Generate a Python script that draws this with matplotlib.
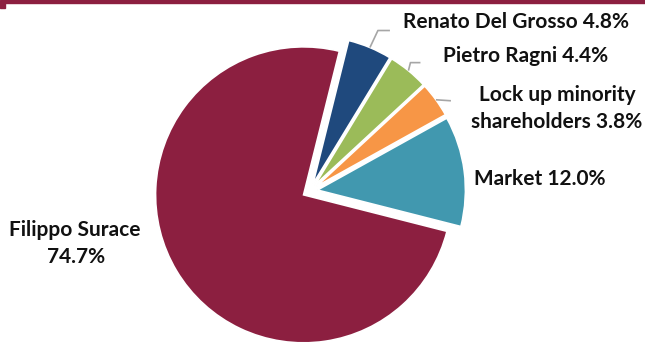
import math
import matplotlib
matplotlib.use("Agg")
import matplotlib.pyplot as plt
from matplotlib.patches import Rectangle

# ---- data ----
names = ["Renato Del Grosso", "Pietro Ragni", "Lock up minority\nshareholders", "Market", "Filippo Surace"]
shares = [4.8, 4.4, 3.8, 12.0, 74.7]
colors = ["#1F497D", "#9BBB59", "#F79646", "#4198AF", "#8C1F40"]

W, H = 645, 343
plt.rcParams['font.family'] = ['Lato', 'DejaVu Sans']

fig = plt.figure(figsize=(W / 100, H / 100), dpi=100)
ax = fig.add_axes([0, 0, 1, 1])

R = 148
cx, cy = 310, H - 191
wedges, _ = ax.pie(shares, colors=colors, startangle=76, counterclock=False,
                   explode=[7.5] * len(shares), radius=R, center=(cx, cy),
                   wedgeprops=dict(edgecolor="white", linewidth=1.2))
ax.set_xlim(0, W)
ax.set_ylim(0, H)
ax.set_aspect("equal")
ax.axis("off")

def Y(y):
    return H - y

# top rule
ax.add_patch(Rectangle((0, Y(3)), W, 3, color="#8C1F40", clip_on=False))
ax.add_patch(Rectangle((0, Y(8)), 5, 5, color="#8C1F40", clip_on=False))

tk = dict(fontsize=15, fontweight="bold", color="#111111")

# label lines: text, center x, baseline y (pixels from top)
lines = [
    (f"{names[0]} {shares[0]:.1f}%", 516, 28),
    (f"{names[1]} {shares[1]:.1f}%", 526, 62),
    (names[2].split("\n")[0], 557, 101),
    (f"{names[2].split(chr(10))[1]} {shares[2]:.1f}%", 557, 128),
    (f"{names[3]} {shares[3]:.1f}%", 540, 185),
    (names[4], 75, 236),
    (f"{shares[4]:.1f}%", 76, 263),
]
for txt, x, y in lines:
    ax.text(x, Y(y), txt, ha="center", va="baseline", **tk)

# leader lines from the wedge edges
offsets = [((8, 17), 12), ((2, 8), 10), ((15, -1), 0)]
for w, ((dx, dy), hx) in zip(wedges[:3], offsets):
    th = math.radians((w.theta1 + w.theta2) / 2)
    x0 = w.center[0] + R * math.cos(th)
    y0 = w.center[1] + R * math.sin(th)
    xs = [x0, x0 + dx, x0 + dx + hx]
    ys = [y0, y0 + dy, y0 + dy]
    ax.plot(xs, ys, color="#A6A6A6", lw=1.2, solid_capstyle="butt")

fig.savefig("out.png", dpi=100)
